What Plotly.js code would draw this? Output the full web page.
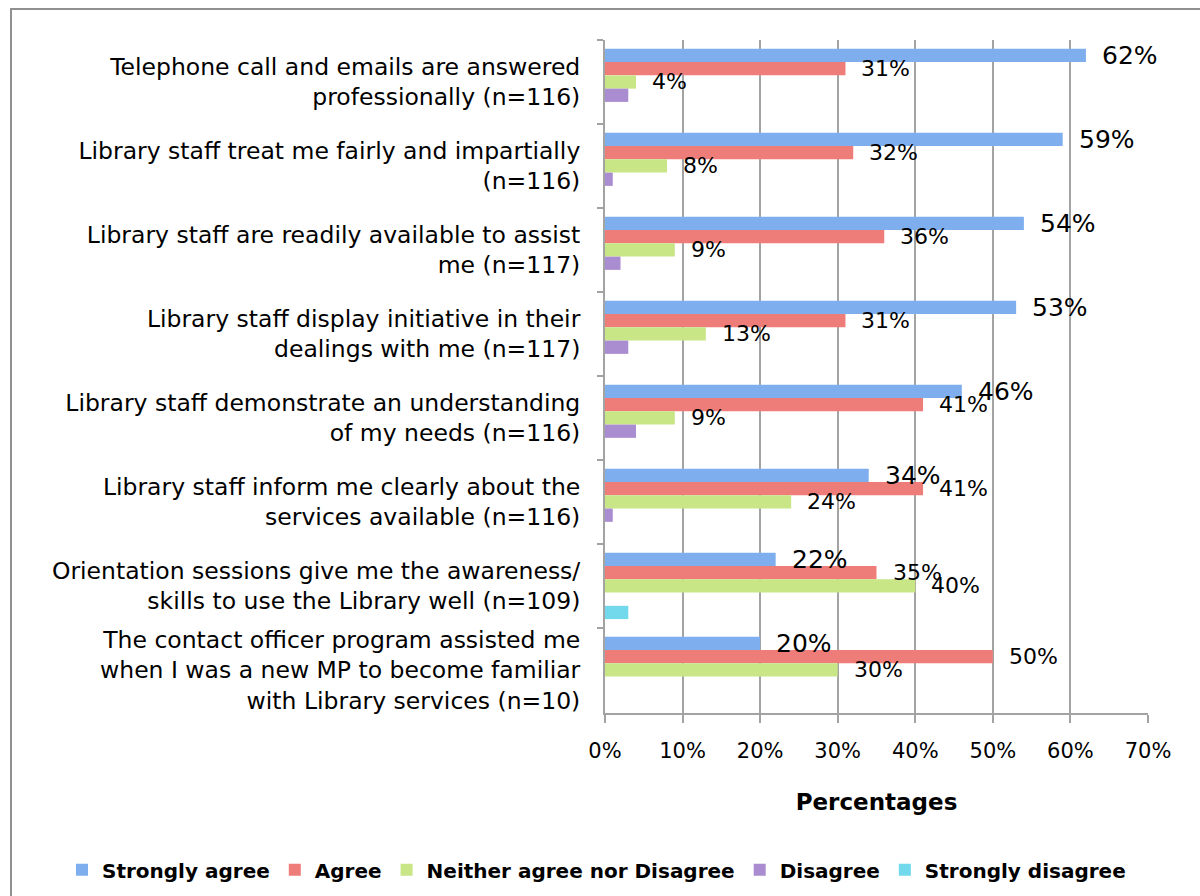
<!DOCTYPE html>
<html>
<head>
<meta charset="utf-8">
<script src="https://cdn.plot.ly/plotly-3.0.1.min.js"></script>
<style>
html,body{margin:0;padding:0;background:#fff;width:1200px;height:896px;overflow:hidden;}
#frame{position:absolute;left:10px;top:8px;width:1300px;height:1000px;border:2px solid #909090;}
#chart{position:absolute;left:0;top:0;width:1200px;height:896px;}
</style>
</head>
<body>
<div id="frame"></div>
<div id="chart"></div>
<script>
const categories = [
  "Telephone call and emails are answered<br>professionally (n=116)",
  "Library staff treat me fairly and impartially<br>(n=116)",
  "Library staff are readily available to assist<br>me (n=117)",
  "Library staff display initiative in their<br>dealings with me (n=117)",
  "Library staff demonstrate an understanding<br>of my needs (n=116)",
  "Library staff inform me clearly about the<br>services available (n=116)",
  "Orientation sessions give me the awareness/<br>skills to use the Library well (n=109)",
  "The contact officer program assisted me<br>when I was a new MP to become familiar<br>with Library services (n=10)"
];
const seriesNames = ["Strongly agree", "Agree", "Neither agree nor Disagree", "Disagree", "Strongly disagree"];
const stronglyAgree = [62, 59, 54, 53, 46, 34, 22, 20];
const agree = [31, 32, 36, 31, 41, 41, 35, 50];
const neither = [4, 8, 9, 13, 9, 24, 40, 30];
const disagree = [3, 1, 2, 3, 4, 1, 0, 0];
const stronglyDisagree = [0, 0, 0, 0, 0, 0, 3, 0];
const xTickVals = [0, 10, 20, 30, 40, 50, 60, 70];

const seriesValues = [stronglyAgree, agree, neither, disagree, stronglyDisagree];
const colors = ["#7eaeee", "#ee7d79", "#c8e686", "#aa8cd0", "#72d9ec"];
const labelled = [true, true, true, false, false];
const labelSize = [25, 22, 22, 22, 22];
const barPx = 13.3;

const traces = seriesValues.map((vals, i) => ({
  type: 'bar',
  orientation: 'h',
  name: seriesNames[i],
  y: categories,
  x: vals,
  marker: {color: colors[i], line: {width: 0}},
  hoverinfo: 'x+name'
}));

const annotations = [];
seriesValues.forEach((vals, i) => {
  if (!labelled[i]) return;
  vals.forEach((v, j) => {
    if (v <= 0) return;
    annotations.push({
      x: v, y: categories[j], xref: 'x', yref: 'y',
      text: v + '%', showarrow: false,
      xanchor: 'left', yanchor: 'middle',
      xshift: 14, yshift: (2 - i) * barPx,
      font: {family: 'DejaVu Sans, Verdana, sans-serif', size: labelSize[i], color: '#000'}
    });
  });
});

const layout = {
  width: 1200, height: 896,
  margin: {l: 605, r: 52, t: 40, b: 183, autoexpand: false},
  paper_bgcolor: 'rgba(0,0,0,0)',
  plot_bgcolor: 'rgba(0,0,0,0)',
  barmode: 'group',
  bargap: 0.21,
  bargroupgap: 0,
  font: {family: 'DejaVu Sans, Verdana, sans-serif', color: '#000'},
  xaxis: {
    range: [0, 70],
    tickvals: xTickVals,
    ticktext: xTickVals.map(v => v + '%'),
    showgrid: true, gridcolor: '#a3a3a3', gridwidth: 2,
    zeroline: false,
    showline: true, linecolor: '#a3a3a3', linewidth: 2,
    ticks: 'outside', ticklen: 8, tickwidth: 2, tickcolor: '#a3a3a3',
    ticklabelstandoff: 10,
    tickfont: {size: 21, color: '#000'},
    title: {text: '<b>Percentages</b>', font: {size: 23, color: '#000'}, standoff: 32}
  },
  yaxis: {
    autorange: 'reversed',
    type: 'category',
    showgrid: false, zeroline: false,
    showline: true, linecolor: '#a3a3a3', linewidth: 2,
    ticks: 'outside', ticklen: 6, tickwidth: 2, tickcolor: '#a3a3a3',
    tickson: 'boundaries',
    ticklabelstandoff: 18,
    tickfont: {size: 23.5, color: '#000'}
  },
  showlegend: true,
  legend: {
    orientation: 'h',
    x: -1.0, xanchor: 'left',
    y: -0.233, yanchor: 'middle',
    font: {size: 20, color: '#000', family: 'DejaVu Sans, sans-serif', weight: 'bold'},
    itemwidth: 30,
    traceorder: 'normal'
  },
  annotations: annotations
};

Plotly.newPlot('chart', traces, layout, {displayModeBar: false, staticPlot: true});
</script>
</body>
</html>
